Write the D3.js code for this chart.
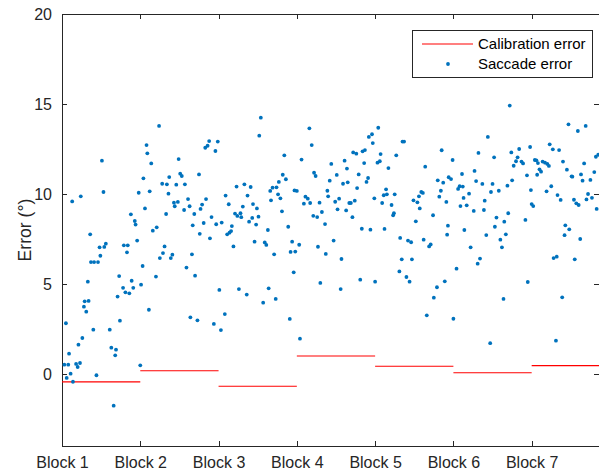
<!DOCTYPE html>
<html>
<head>
<meta charset="utf-8">
<script src="https://cdn.jsdelivr.net/npm/d3@7"></script>
<style>
  body { margin: 0; background: #fff; }
  svg { display: block; font-family: "Liberation Sans", Arial, Helvetica, sans-serif; }
  .axis path, .axis line { stroke: #262626; stroke-width: 1; shape-rendering: crispEdges; }
  .axis text { fill: #262626; font-size: 16px; }
</style>
</head>
<body>
<div id="chart"></div>
<script>
// Block labels, one tick at the start of each block (100 trials per block)
const blockLabels = ['Block 1', 'Block 2', 'Block 3', 'Block 4', 'Block 5', 'Block 6', 'Block 7'];
const trialsPerBlock = 100;
const visibleTrials = 686;

// Calibration error per block (deg)
const calibrationError = [-0.44, 0.18, -0.68, 1.0, 0.43, 0.07, 0.46];

// Saccade error, trial index and error (deg)
const saccadeTrial = [
  3, 5, 6, 8, 9, 11, 13, 14, 18, 20, 21, 23, 24, 26, 28, 29, 31, 33, 34, 36, 37, 40, 41, 44, 46, 48, 49, 51, 53, 54, 56, 61, 63, 66, 68, 69, 71, 73, 74, 78, 79, 81, 83, 84, 86, 88, 89, 91, 93, 94, 96, 98, 100,
  101, 103, 104, 106, 108, 109, 111, 112, 114, 116, 120, 121, 124, 125, 128, 129, 131, 133, 134, 136, 137, 139, 141, 143, 144, 146, 148, 149, 151, 153, 156, 157, 159, 161, 163, 164, 166, 167, 169, 170, 173, 175, 176, 177, 179, 181, 183, 184, 186, 188, 189, 191, 194, 196, 197, 199,
  201, 203, 204, 208, 209, 211, 213, 214, 216, 217, 219, 221, 223, 224, 226, 228, 229, 231, 233, 236, 237, 239, 241, 243, 244, 246, 248, 249, 251, 252, 254, 257, 259, 261, 263, 264, 266, 267, 269, 271, 273, 274, 276, 277, 279, 281, 282, 284, 286, 289, 291, 292, 294, 296,
  297, 298, 300, 303, 304, 306, 309, 311, 314, 316, 317, 319, 321, 322, 324, 326, 327, 329, 330, 332, 336, 337, 339, 340, 342, 344, 347, 349, 351, 352, 354, 356, 357, 359, 361, 363, 364, 365, 367, 369, 371, 372, 374, 376, 377, 379, 381, 383, 384, 386, 387, 389, 391, 392, 394, 396, 397, 399,
  400, 403, 404, 406, 407, 409, 411, 412, 414, 415, 417, 421, 423, 424, 425, 427, 431, 432, 434, 435, 437, 440, 442, 444, 446, 447, 449, 452, 454, 456, 457, 459, 461, 462, 464, 466, 469, 471, 474, 475, 479, 480, 482, 484, 485, 487, 489, 491, 492, 493, 494, 497, 499,
  500, 504, 506, 508, 509, 511, 512, 513, 514, 517, 520, 522, 526, 527, 529, 531, 532, 534, 537, 539, 540, 542, 544, 547, 548, 550, 552, 553, 555, 558, 560, 562, 564, 565, 567, 569, 570, 572, 574, 575, 577, 580, 582, 584, 587, 589, 592, 594, 595, 598, 599,
  600, 602, 604, 606, 607, 608, 610, 612, 614, 617, 619, 620, 622, 623, 625, 627, 628, 631, 632, 633, 635, 637, 639, 640, 642, 643, 645, 647, 648, 651, 652, 654, 655, 657, 659, 660, 662, 663, 665, 667, 669, 670, 672, 675, 677, 680, 682, 683, 685
];
const saccadeError = [
  0.52, 2.82, -0.22, 0.52, 1.13, 0.02, 9.59, -0.43, 0.56, 0.39, 1.63, 0.61, 9.87, 2.0, 3.74, 4.04, 3.46, 5.13, 4.06, 7.76, 6.22, 2.46, 6.22, -0.07, 6.22, 7.04, 6.57, 11.85, 10.11, 7.06, 7.24, 2.46, 1.46, -1.76, 1.04, 1.35, 4.3, 5.44, 2.96, 4.79, 7.15, 4.54, 6.76, 7.15, 4.48, 8.87, 5.18, 4.79, 8.5, 8.3, 7.41, 10.07, 0.48,
  4.96, 6.0, 10.87, 9.2, 12.72, 12.26, 3.57, 10.15, 11.7, 7.96, 5.41, 8.15, 13.78, 6.44, 10.57, 6.72, 7.09, 8.89, 10.54, 10.02, 10.94, 6.44, 6.63, 9.52, 9.32, 10.52, 9.56, 11.94, 11.13, 11.0, 9.11, 10.54, 5.91, 9.72, 9.32, 3.15, 6.65, 8.26, 8.89, 5.46, 2.98, 11.09, 7.79, 9.17, 9.41, 8.39, 12.57, 9.72, 12.68, 12.94, 7.54, 8.72, 2.78, 12.39, 8.32, 12.91,
  4.67, 2.44, 8.41, 3.33, 9.91, 7.76, 9.43, 7.85, 7.94, 8.22, 7.09, 8.91, 10.41, 8.78, 4.72, 8.93, 8.71, 9.3, 10.54, 4.41, 9.91, 8.46, 10.39, 8.67, 9.44, 7.35, 8.3, 9.2, 8.74, 13.24, 14.24, 3.96, 7.31, 7.17, 8.0, 4.76, 10.17, 9.65, 10.35, 6.65, 4.17, 10.37, 9.98, 10.67, 9.76, 9.04, 11.07, 12.15, 10.82, 8.18, 3.06, 6.78, 7.35, 5.65,
  10.2, 6.8, 10.17, 7.18, 1.96, 11.91, 9.46, 9.85, 9.74, 13.65, 9.5, 12.72, 8.79, 11.18, 11.0, 8.72, 7.07, 9.52, 5.06, 9.0, 8.33, 6.67, 10.18, 9.87, 10.74, 11.67, 7.41, 9.57, 11.06, 9.15, 9.74, 4.72, 6.39, 10.57, 11.85, 9.09, 11.41, 10.65, 9.5, 9.5, 8.71, 12.31, 9.63, 12.24, 10.33, 11.09, 5.24, 8.07, 12.37, 11.72, 12.44, 10.67, 10.89, 13.17, 8.02, 13.32, 12.83, 9.76,
  5.13, 11.74, 13.68, 11.82, 12.22, 9.5, 9.93, 8.06, 10.26, 9.98, 11.44, 9.39, 8.82, 8.93, 9.98, 12.15, 5.7, 7.56, 6.37, 12.91, 12.91, 5.39, 7.41, 5.13, 7.32, 6.37, 9.65, 8.48, 9.54, 9.87, 9.2, 10.11, 10.06, 7.46, 11.52, 3.26, 7.09, 7.2, 8.82, 4.24, 4.82, 10.76, 9.85, 10.18, 12.43, 10.63, 5.15, 9.56, 7.74, 8.24, 10.93, 10.83, 11.89,
  3.07, 5.85, 10.28, 10.43, 9.33, 11.11, 10.41, 9.78, 8.0, 9.37, 10.02, 7.04, 9.06, 11.28, 10.72, 6.13, 12.28, 6.41, 10.56, 9.11, 9.63, 7.72, 13.17, 1.71, 10.11, 10.56, 12.04, 8.18, 8.69, 10.18, 7.46, 7.04, 4.17, 8.46, 7.76, 10.46, 8.93, 14.91, 12.31, 10.76, 11.57, 11.82, 12.04, 12.5, 11.8, 11.7, 8.56, 11.04, 5.11, 12.61, 10.22,
  9.44, 9.33, 11.89, 11.87, 11.07, 11.72, 11.37, 11.24, 11.8, 11.74, 10.15, 11.67, 11.56, 12.76, 10.43, 12.48, 6.44, 1.85, 6.52, 9.94, 12.44, 9.67, 4.26, 11.8, 7.71, 8.26, 11.35, 13.87, 8.04, 10.98, 10.96, 9.68, 6.37, 9.48, 13.5, 9.39, 7.5, 11.09, 10.74, 11.7, 13.78, 9.7, 10.0, 10.78, 9.79, 11.22, 12.07, 9.17, 12.18
];

const yTicks = [0, 5, 10, 15, 20];

const margin = { top: 14, right: 0, bottom: 28, left: 62 };
const width = 599 - margin.left + 1; // right box edge just off the window
const height = 474 - margin.top - margin.bottom;

const x = d3.scaleLinear()
    .domain([0, visibleTrials])
    .range([0, width - 1]);
const y = d3.scaleLinear()
    .domain([-4, 20])
    .range([height, 0]);

const svg = d3.select('#chart').append('svg')
    .attr('width', 599)
    .attr('height', 474)
  .append('g')
    .attr('transform', `translate(${margin.left},${margin.top})`);

svg.append('clipPath')
    .attr('id', 'plot-clip')
  .append('rect')
    .attr('width', width)
    .attr('height', height);

const blockStarts = blockLabels.map((d, i) => i * trialsPerBlock);

// Axes, MATLAB style with ticks pointing inward on every side
svg.append('g')
    .attr('class', 'axis')
    .attr('transform', `translate(0,${height})`)
    .call(d3.axisBottom(x)
      .tickValues(blockStarts)
      .tickFormat((d, i) => blockLabels[i])
      .tickSizeInner(-5)
      .tickSizeOuter(0)
      .tickPadding(11));

svg.append('g')
    .attr('class', 'axis')
    .call(d3.axisTop(x)
      .tickValues(blockStarts)
      .tickFormat('')
      .tickSizeInner(-5)
      .tickSizeOuter(0));

svg.append('g')
    .attr('class', 'axis')
    .call(d3.axisLeft(y)
      .tickValues(yTicks)
      .tickSizeInner(-5)
      .tickSizeOuter(0)
      .tickPadding(10));

svg.append('g')
    .attr('class', 'axis')
    .attr('transform', `translate(${width - 1},0)`)
    .call(d3.axisRight(y)
      .tickValues(yTicks)
      .tickFormat('')
      .tickSizeInner(-5)
      .tickSizeOuter(0));

// Y label
svg.append('text')
    .attr('transform', `translate(-31,${height / 2}) rotate(-90)`)
    .attr('text-anchor', 'middle')
    .attr('fill', '#262626')
    .style('font-size', '17.6px')
    .text('Error (°)');

const plot = svg.append('g').attr('clip-path', 'url(#plot-clip)');

// Calibration error, one flat segment per block
plot.selectAll('line.calib')
    .data(calibrationError)
  .enter().append('line')
    .attr('class', 'calib')
    .attr('x1', (d, i) => x(i * trialsPerBlock))
    .attr('x2', (d, i) => x((i + 1) * trialsPerBlock))
    .attr('y1', d => y(d))
    .attr('y2', d => y(d))
    .attr('stroke', '#ff0000')
    .attr('stroke-width', 1.2);

// Saccade error points
plot.selectAll('circle')
    .data(saccadeTrial.map((t, i) => ({ t, e: saccadeError[i] })))
  .enter().append('circle')
    .attr('cx', d => x(d.t))
    .attr('cy', d => y(d.e))
    .attr('r', 1.9)
    .attr('fill', '#0072bd');

// Legend
const legend = svg.append('g')
    .attr('transform', `translate(${412 - margin.left},${30 - margin.top})`);

legend.append('rect')
    .attr('x', 0.5)
    .attr('y', 0.5)
    .attr('width', 180)
    .attr('height', 47)
    .attr('fill', '#fff')
    .attr('stroke', '#262626')
    .attr('stroke-width', 1);

legend.append('line')
    .attr('x1', 10)
    .attr('x2', 61)
    .attr('y1', 14)
    .attr('y2', 14)
    .attr('stroke', '#ff0000')
    .attr('stroke-width', 1.2);

legend.append('circle')
    .attr('cx', 36)
    .attr('cy', 34)
    .attr('r', 1.9)
    .attr('fill', '#0072bd');

legend.selectAll('text')
    .data(['Calibration error', 'Saccade error'])
  .enter().append('text')
    .attr('x', 66)
    .attr('y', (d, i) => 14 + i * 20)
    .attr('dy', '0.35em')
    .attr('fill', '#000')
    .style('font-size', '15px')
    .text(d => d);
</script>
</body>
</html>
